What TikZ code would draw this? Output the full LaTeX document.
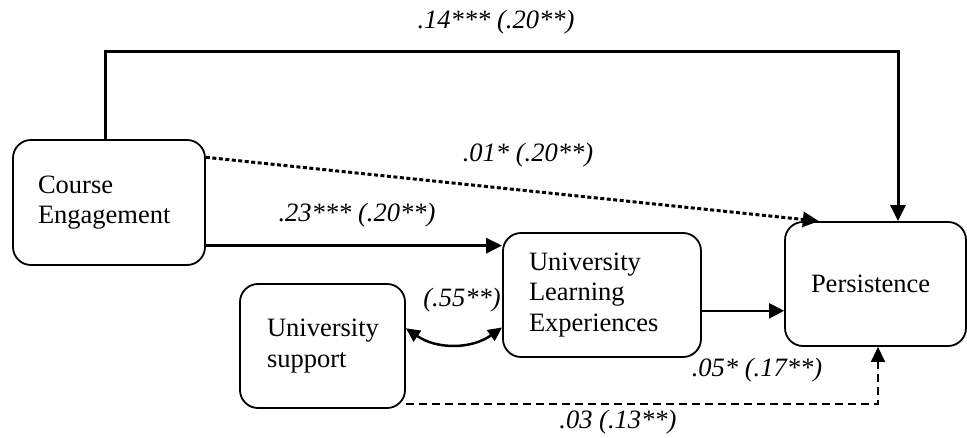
\documentclass[tikz,border=0pt]{standalone}
\usepackage{fontspec}
\setmainfont{Liberation Serif}
\usepackage{tikz}
\usetikzlibrary{positioning,arrows.meta,calc}
\tikzset{
  varbox/.style={draw,rounded corners=18pt,line width=1.8pt,align=left,
    font=\fontsize{26.5}{30.5}\selectfont,inner ysep=0pt},
  patharr/.style={-{Triangle[length=16pt,width=15pt]},line width=3pt},
  thinarr/.style={-{Triangle[length=15pt,width=15pt]},line width=2pt},
  dotarr/.style={-{Triangle[length=16pt,width=15pt]},line width=3pt,
    dash pattern=on 4pt off 2.5pt},
  dasharr/.style={-{Triangle[length=15pt,width=14pt]},line width=1.5pt,
    dash pattern=on 8pt off 5pt},
  corarr/.style={{Triangle[length=14pt,width=13pt]}-{Triangle[length=14pt,width=13pt]},
    line width=2.5pt},
  coef/.style={font=\fontsize{26.5}{30}\selectfont\itshape,inner sep=0pt},
}
\begin{document}
\begin{tikzpicture}[x=1pt,y=1pt]
  \useasboundingbox (0,0) rectangle (967,437);
  % variables
  \node[varbox,minimum width=192pt,minimum height=125pt,text width=142pt,inner xsep=25pt]
    (ce) at (109,234.5) {Course\\Engagement};
  \node[varbox,minimum width=165pt,minimum height=124pt,text width=111pt,inner xsep=27pt]
    (us) at (322.5,91) {University\\support};
  \node[varbox,minimum width=198pt,minimum height=124pt,text width=146pt,inner xsep=26pt]
    (ule) at (602,142) {University\\Learning\\Experiences};
  \node[varbox,minimum width=181pt,minimum height=124pt,text width=129pt,inner xsep=26pt]
    (per) at (875.5,153) {Persistence};
  % corners of the direct path
  \coordinate (tl) at (105,385);
  \coordinate (tr) at (898,385);
  \coordinate (dturn) at (878,33);
  % paths
  \draw[patharr,line join=miter] (ce.north -| tl) -- (tl) -- (tr) -- (per.north -| tr);
  \draw[dotarr] (ce.25) -- (per.132);
  \draw[patharr] (ce.-24) -- (ce.-24 -| ule.west);
  \draw[thinarr] (ule.-9) -- (ule.-9 -| per.west);
  \draw[corarr] (us.12) to[bend right=35] (ule.198);
  \draw[dasharr] (us.south east |- dturn) -- (dturn) -- (per.south -| dturn);
  % coefficients
  \node[coef] (c14) at (496,415) {.14*** (.20**)};
  \node[coef] (c01) at (528,282) {.01* (.20**)};
  \node[coef] (c23) at (357,222) {.23*** (.20**)};
  \node[coef] (c55) at (462,137) {(.55**)};
  \node[coef] (c05) at (757,67) {.05* (.17**)};
  \node[coef] (c03) at (618,15) {.03 (.13**)};
\end{tikzpicture}
\end{document}
